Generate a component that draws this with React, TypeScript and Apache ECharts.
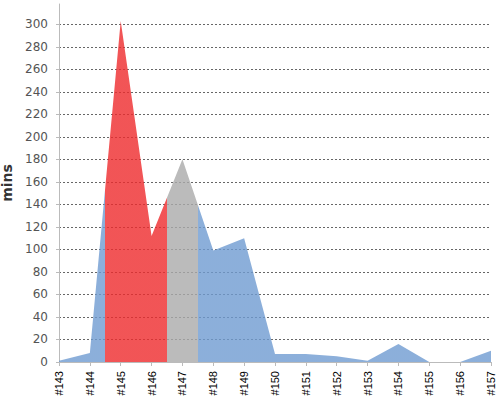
import { useEffect, useRef } from "react";
import * as echarts from "echarts";

const builds = ["#143", "#144", "#145", "#146", "#147", "#148", "#149", "#150", "#151", "#152", "#153", "#154", "#155", "#156", "#157"];
const minutes = [1, 8, 303, 112, 180, 99, 110, 7, 7, 5, 1, 16, 0, 0, 10];

// colour bands along x (build index boundaries)
const bandEdges = [1.5, 3.5, 4.5];
const BLUE = "rgba(111,155,209,0.8)";
const RED = "rgba(238,42,44,0.8)";
const GRAY = "rgba(170,170,170,0.8)";

const FONT = "DejaVu Sans";

function buildOption(): echarts.EChartsOption {
  return {
    animation: false,
    grid: { left: 59, right: 9, top: 4, bottom: 38, outerBoundsMode: "none" } as any,
    visualMap: {
      type: "piecewise",
      show: false,
      dimension: 0,
      seriesIndex: 0,
      pieces: [
        { lt: bandEdges[0], color: BLUE },
        { gte: bandEdges[0], lt: bandEdges[1], color: RED },
        { gte: bandEdges[1], lt: bandEdges[2], color: GRAY },
        { gte: bandEdges[2], color: BLUE },
      ],
    },
    xAxis: {
      type: "value",
      min: 0,
      max: builds.length - 1,
      interval: 1,
      axisLine: { lineStyle: { color: "#bbbbbb" } },
      axisTick: { length: 4, lineStyle: { color: "#bbbbbb" } },
      splitLine: { show: false },
      axisLabel: {
        rotate: 90,
        margin: 9,
        fontFamily: "Liberation Sans",
        fontSize: 11,
        color: "#000",
        formatter: (v: number) => builds[v] ?? "",
      },
    },
    yAxis: {
      type: "value",
      min: 0,
      max: 318,
      interval: 20,
      offset: 4,
      name: "mins",
      nameLocation: "middle",
      nameRotate: 90,
      nameGap: 34,
      nameTextStyle: { fontFamily: FONT, fontSize: 14, fontWeight: "bold", color: "#333" },
      axisLine: { show: true, lineStyle: { color: "#bbbbbb" } },
      axisTick: { show: true, length: 3, lineStyle: { color: "#bbbbbb" } },
      axisLabel: {
        margin: 7,
        fontFamily: FONT,
        fontSize: 12,
        color: "#545454",
        showMaxLabel: false,
      },
      splitLine: {
        show: true,
        showMaxLine: false,
        lineStyle: { color: "#666", type: [2, 2], width: 1 },
      },
    },
    series: [
      {
        type: "line",
        data: minutes.map((m, i) => [i, m]),
        symbol: "none",
        lineStyle: { width: 0 },
        areaStyle: { opacity: 1 },
      },
    ],
  };
}

export default function App() {
  const ref = useRef<HTMLDivElement | null>(null);

  useEffect(() => {
    const el = ref.current;
    if (!el) return;
    const chart = echarts.init(el, undefined, { renderer: "svg" });
    chart.setOption(buildOption());
    return () => chart.dispose();
  }, []);

  return <div ref={ref} style={{ width: 500, height: 400, position: "absolute", left: 0, top: 0 }} />;
}
